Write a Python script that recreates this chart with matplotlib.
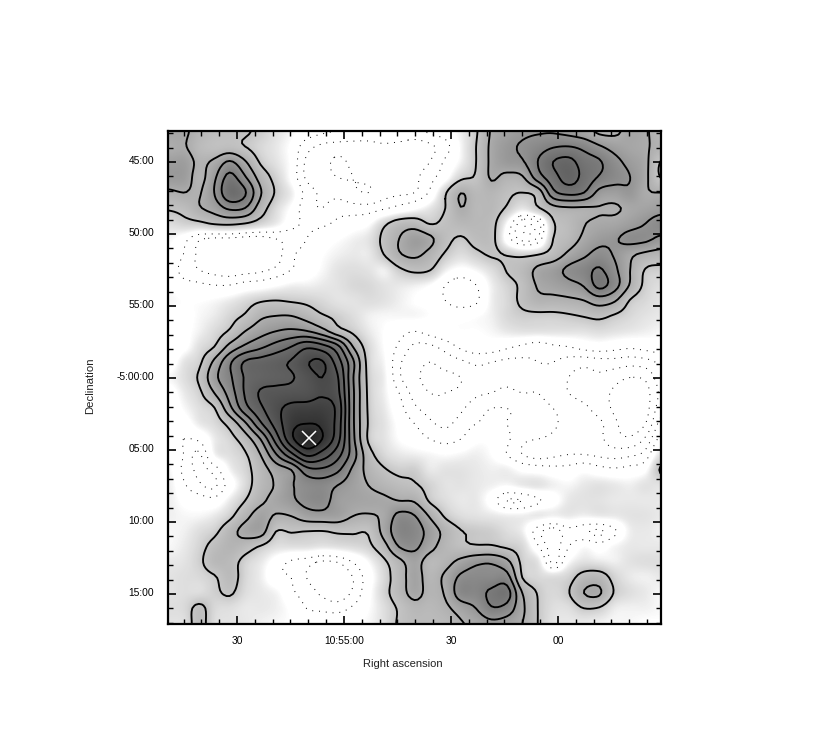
import numpy as np
import matplotlib
matplotlib.use("Agg")
import matplotlib.pyplot as plt
from matplotlib.colors import LinearSegmentedColormap, Normalize
from matplotlib.ticker import MultipleLocator, FixedLocator, FixedFormatter
from matplotlib.transforms import ScaledTranslation

# Flux map (contour-level units), rows from north to south, columns east to west
row00 = [2.3,2.2,1.6,1.3,1.2,1.1,0.8,0.4,0.1,-0.2,-0.4,-0.5,-0.6,-0.6,-0.5,-0.5,-0.6,-0.4,-0.2,0.2,0.9,2.1,2.5,2.8,2.9,2.9,2.7,2.4,1.8,1.8,2.3,2.1,1.6]
row01 = [2.0,2.1,1.4,1.2,1.3,1.0,0.6,0.3,-0.1,-0.8,-1.1,-1.2,-1.2,-1.2,-1.1,-1.2,-1.3,-1.1,-0.7,0.1,1.0,2.2,2.8,3.1,3.5,3.9,4.0,3.7,3.1,2.6,2.3,2.1,1.7]
row02 = [2.6,2.6,1.8,2.2,3.1,2.1,0.9,0.4,-0.1,-1.1,-1.3,-1.6,-1.4,-1.3,-1.3,-1.5,-1.2,-1.0,-0.4,0.2,1.0,2.2,2.7,2.9,4.0,5.0,5.3,4.5,4.1,3.3,2.7,2.2,0.95]
row03 = [2.7,2.6,1.7,2.8,4.3,3.1,1.6,0.7,-0.1,-1.1,-1.3,-1.5,-1.5,-1.4,-1.4,-1.3,-1.1,-0.7,-0.1,0.8,1.1,2.1,1.7,1.9,3.5,4.6,5.4,4.7,3.9,3.4,3.0,2.2,0.95]
row04 = [1.8,2.0,1.9,3.0,4.8,4.1,2.1,0.9,0.2,-0.7,-1.1,-1.2,-1.4,-1.5,-1.2,-1.1,-1.0,-0.4,0.9,1.98,1.5,1.6,1.2,1.0,1.4,3.7,4.3,4.0,2.7,2.5,2.8,2.1,2.0]
row05 = [1.1,1.3,1.9,2.4,3.2,3.0,1.5,0.5,-0.1,-0.8,-1.0,-0.7,-0.8,-0.8,-0.6,-0.3,0,0.4,1.0,1.98,1.5,1.5,0.9,0.3,0.9,1.7,1.9,1.9,1.95,1.9,2.2,2.4,2.6]
row06 = [0.5,0.7,0.8,1.1,1.2,1.0,0.6,0.2,-0.3,-0.6,-0.6,-0.4,-0.2,0,0.8,1.4,1.5,0.95,1.2,1.5,1.5,1.3,0.0,-1.3,-1.2,0.9,1.4,1.95,2.2,2.3,2.6,3.0,3.4]
row07 = [0.1,-0.3,-0.9,-1.1,-1.1,-1.2,-1.2,-1.0,-0.8,-0.5,-0.2,0,0.2,0.4,1.2,2.0,2.6,2.2,1.3,0.9,1.3,1.25,-0.2,-1.2,-0.9,1.0,1.5,2.2,2.7,2.9,3.3,3.2,2.8]
row08 = [0,-0.5,-1.1,-1.4,-1.4,-1.3,-1.1,-1.2,-0.6,-0.3,0,0.2,0.3,0.3,1.0,1.9,2.2,1.7,0.9,0.5,0.8,1.1,0.95,0.8,0.95,1.4,2.2,2.8,3.3,2.9,2.2,1.8,1.6]
row09 = [-0.1,-0.7,-1.0,-1.2,-1.3,-1.2,-1.1,-0.9,-0.5,-0.2,0.1,0.4,0.5,0.4,0.2,0.85,1.2,1.05,0.2,-0.1,0.1,0.5,1.05,1.4,2.2,2.6,3.2,3.6,4.1,3.2,2.0,0.95,0.8]
row10 = [0,-0.3,-0.4,-0.5,-0.5,-0.3,-0.2,0,0.2,0.2,0.3,0.4,0.6,0.6,0.4,0.3,0.2,0,-0.5,-0.8,-0.5,0.2,0.7,1.2,2.1,2.4,2.7,3.1,4.3,3.4,1.9,0.8,0.5]
row11 = [0.1,0,0,0.1,0.3,0.6,0.9,1.0,0.9,0.8,0.6,0.4,0.4,0.5,0.4,0.2,0,-0.1,-0.5,-0.8,-0.6,0.2,0.6,1.2,1.7,1.7,1.8,2.0,2.5,2.1,0.95,0.6,0.4]
row12 = [-0.1,-0.1,0.1,0.3,0.7,1.1,1.8,2.0,2.0,1.6,1.1,0.8,0.5,0.2,0.1,0.1,0.1,0,-0.1,-0.1,0,0.2,0.6,0.8,0.8,0.8,0.9,1.05,1.2,0.9,0.6,0.4,0.3]
row13 = [-0.3,-0.1,0.2,0.6,1.1,2.0,2.6,3.0,3.2,3.05,2.4,1.4,0.85,0.3,0,-0.3,-0.5,-0.3,-0.1,0,0,0.1,0.3,0.4,0.4,0.4,0.4,0.4,0.5,0.4,0.3,0.2,0.1]
row14 = [-0.4,-0.1,0.5,1.0,2.3,3.2,3.8,4.4,5.0,5.8,5.4,4.3,2.0,0.6,0,-0.6,-1.1,-1.1,-0.8,-0.4,-0.2,-0.2,-0.4,-0.6,-0.8,-0.6,-0.5,-0.3,-0.2,-0.3,-0.4,-0.3,-0.2]
row15 = [-0.3,0.4,0.8,2.2,3.8,5.1,5.4,5.7,6.1,6.9,7.1,5.5,3.2,0.7,0.1,-0.9,-1.3,-1.5,-1.3,-1.1,-0.9,-1.0,-1.1,-1.1,-1.0,-1.0,-1.2,-1.3,-1.2,-1.2,-1.3,-1.2,-0.9]
row16 = [0.1,0.5,1.1,2.7,3.8,5.1,5.5,5.7,5.9,6.5,7.0,6.1,3.1,0.8,0.2,-0.9,-1.4,-1.6,-1.6,-1.5,-1.2,-1.1,-1.1,-1.2,-1.1,-1.1,-1.5,-1.7,-1.6,-1.8,-2.0,-1.9,-1.2]
row17 = [-0.2,0.3,0.8,2.0,3.4,5.1,6.1,6.3,6.4,6.5,6.9,6.3,3.2,0.85,0.2,-0.5,-1.2,-1.5,-1.5,-1.4,-1.1,-1.0,-0.9,-1.0,-1.0,-1.2,-1.5,-1.7,-1.8,-2.1,-2.4,-2.2,-1.4]
row18 = [-0.3,0.1,0.5,0.95,2.7,4.6,5.8,6.7,7.3,7.4,7.4,6.7,3.2,0.9,0.3,-0.3,-0.9,-1.2,-1.4,-1.1,-0.7,-0.5,-0.5,-0.6,-0.8,-1.0,-1.2,-1.4,-1.7,-2.1,-2.4,-2.2,-1.2]
row19 = [-0.3,-0.2,0.3,0.6,1.3,2.8,4.8,6.4,7.7,8.0,7.8,6.6,3.2,0.95,0.4,-0.1,-0.5,-0.9,-1.1,-0.8,-0.5,-0.4,-0.5,-0.7,-0.6,-0.9,-1.2,-1.3,-1.4,-1.9,-2.3,-2.0,-0.8]
row20 = [-0.2,-0.5,-0.4,0.3,0.7,1.5,3.0,5.4,7.7,8.8,8.0,6.4,3.3,0.9,0.4,0,-0.2,-0.5,-0.7,-0.5,-0.1,-0.1,-0.4,-0.9,-1.0,-1.1,-1.3,-1.3,-1.4,-1.8,-1.9,-1.4,-0.3]
row21 = [0,-0.5,-1.1,0.2,0.5,0.9,2.0,3.9,5.7,7.2,6.6,5.4,3.5,1.4,0.6,0.3,0.2,0.1,0,0.1,0.2,0,-0.5,-1.0,-1.2,-1.1,-1.0,-1.0,-1.1,-1.2,-1.1,-0.8,0.4]
row22 = [0.1,-0.6,-1.1,-0.8,0.2,0.7,1.5,2.4,3.0,4.6,4.8,4.2,2.8,1.7,1.1,0.8,0.8,0.3,0.4,0.4,0.3,0.2,0.2,-0.1,-0.2,-0.3,-0.3,-0.1,-0.3,-0.4,-0.3,-0.1,1.1]
row23 = [0.2,-0.4,-0.9,-1.1,-0.2,0.6,1.5,2.1,2.9,3.4,3.5,3.0,2.5,2.0,1.6,1.3,1.1,0.7,0.4,0.4,0.3,0.2,0.1,0.3,0.4,0.2,0.1,0.3,0.4,0.3,0.2,0.4,0.4]
row24 = [0.2,-0.1,-0.2,-0.3,0.3,1.0,1.8,2.3,2.8,3.3,3.4,2.6,2.4,2.3,2.2,2.0,1.9,0.9,0.5,0.3,0.3,-0.2,-1.0,-1.0,-0.6,-0.2,0.3,0.4,0.4,0.3,0.3,0.3,0.3]
row25 = [0.2,0.1,0.1,0.3,0.8,1.7,2.4,1.9,2.0,2.5,2.6,2.5,2.0,1.9,2.2,3.3,3.05,1.9,0.9,0.5,0.4,0.3,0.2,0.2,0.3,0.2,0.3,0.2,0.3,0.3,0.4,0.4,0.3]
row26 = [0.1,0.2,0.5,0.8,1.6,2.3,2.4,1.0,1.05,0.98,0.95,1.1,1.1,1.1,2.3,3.6,3.5,2.6,1.7,1.05,0.9,0.8,0.5,0.2,-0.8,-1.3,-0.7,-0.9,-1.1,-0.6,0.2,0.3,0.2]
row27 = [0.1,0.3,0.7,1.3,1.7,1.4,0.9,0.5,0.5,0.5,0.4,0.5,0.6,0.8,1.6,3.0,3.2,2.3,1.6,1.2,1.1,1.1,0.9,0.6,-0.4,-1.2,-0.5,0,-0.2,0.1,0.3,0.3,0.3]
row28 = [0.3,0.4,0.8,1.5,1.4,0.7,0.3,-0.2,-0.6,-0.8,-1.1,-1.0,-0.5,0.1,0.8,1.7,2.4,1.5,1.7,2.3,2.8,2.9,2.3,0.8,0.4,-1.1,0,0.4,0.3,0.2,0.4,0.5,0.5]
row29 = [0.4,0.5,0.6,0.9,1.4,0.6,0.2,-0.4,-0.5,-1.0,-1.3,-1.4,-1.0,-0.2,0.6,1.5,2.4,1.6,2.2,3.2,3.4,3.4,3.4,1.0,0.6,0.5,0.7,1.4,1.5,0.7,0.3,0.2,0.3]
row30 = [0.4,0.5,0.5,0.8,1.1,0.5,0.3,0.1,-0.4,-0.7,-1.1,-1.3,-0.9,-0.1,0.7,1.5,2.3,1.7,2.1,3.5,3.6,4.2,4.4,2.0,0.95,0.6,0.95,2.0,2.1,0.9,0.5,0.3,0.1]
row31 = [0.5,0.6,1.2,0.6,0.5,0.3,0.3,0.2,-0.1,-0.5,-0.6,-0.7,-0.4,0,0.5,1.1,1.6,1.5,1.8,2.4,3.0,3.9,3.6,2.2,1.0,0.5,0.5,0.98,0.9,0.3,0.2,0.2,0.1]
row32 = [0.4,0.5,1.3,0.5,0.4,0.3,0.2,0.1,0,-0.1,-0.1,0,0,0.1,0.5,1.1,1.4,1.4,1.5,1.9,2.3,2.7,2.5,2.0,1.0,0.4,0.3,0.3,0.2,0.1,0.1,0,0]
rows = [row00,row01,row02,row03,row04,row05,row06,row07,row08,row09,row10,row11,row12,row13,row14,row15,
        row16,row17,row18,row19,row20,row21,row22,row23,row24,row25,row26,row27,row28,row29,row30,row31,row32]

pos_levels = [1, 2, 3, 4, 5, 6, 7, 8]
neg_levels = [-2, -1.5, -1, -0.5]
x_tick_vals = [30, 0, -30, -60]          # RA seconds from 10:55:00
x_tick_labels = ["30", "10:55:00", "30", "00"]
y_tick_vals = [15, 10, 5, 0, -5, -10, -15]  # Dec arcmin from -5:00:00
y_tick_labels = ["45:00", "50:00", "55:00", "-5:00:00", "05:00", "10:00", "15:00"]
source_ra, source_dec = 9.8, -4.17

W, H = 830, 754
L, R, T, B = 168, 661, 131, 624
xlim = (49.35, -88.9)
ylim = (-17.08, 17.15)


def cr_axis(a, f, axis):
    a = np.moveaxis(a, axis, 0)
    n = a.shape[0]
    t = np.linspace(0, n - 1, (n - 1) * f + 1)
    i = np.clip(t.astype(int), 0, n - 2)
    u = (t - i).reshape((-1,) + (1,) * (a.ndim - 1))
    p0, p1 = a[np.clip(i - 1, 0, n - 1)], a[i]
    p2, p3 = a[i + 1], a[np.clip(i + 2, 0, n - 1)]
    out = 0.5 * (2 * p1 + (p2 - p0) * u + (2 * p0 - 5 * p1 + 4 * p2 - p3) * u ** 2
                 + (3 * p1 - p0 - 3 * p2 + p3) * u ** 3)
    return np.moveaxis(out, 0, axis)


grid = np.array(rows, dtype=float)
fine = cr_axis(cr_axis(grid, 5, 0), 5, 1)
xs = np.linspace(xlim[0], xlim[1], fine.shape[1])
ys = np.linspace(ylim[1], ylim[0], fine.shape[0])

stops = [(0, 1.0), (0.3, 0.91), (1, 0.77), (2, 0.68), (3, 0.58), (4, 0.49),
         (5, 0.42), (6, 0.36), (7, 0.29), (8, 0.20), (9, 0.13)]
cmap = LinearSegmentedColormap.from_list(
    "obs", [(v / 9, (g, g, g)) for v, g in stops], N=512)

plt.rcParams["font.family"] = ["Liberation Sans", "DejaVu Sans"]
fig = plt.figure(figsize=(W / 100, H / 100), dpi=100)
ax = fig.add_axes([L / W, 1 - B / H, (R - L) / W, (B - T) / H])
ax.imshow(fine, extent=[xlim[0], xlim[1], ylim[0], ylim[1]], origin="upper",
          aspect="auto", cmap=cmap, norm=Normalize(0, 9), interpolation="bilinear")
ax.contour(xs, ys, fine, levels=pos_levels, colors="k", linewidths=1.35, linestyles="solid")
ax.contour(xs, ys, fine, levels=neg_levels, colors="k", linewidths=0.7,
           linestyles=[(0, (1, 6))])
ax.plot([source_ra], [source_dec], marker="x", color="white", ms=10, mew=1.1, ls="none")

ax.set_xlim(*xlim)
ax.set_ylim(*ylim)
ax.xaxis.set_major_locator(FixedLocator(x_tick_vals))
ax.xaxis.set_major_formatter(FixedFormatter(x_tick_labels))
ax.xaxis.set_minor_locator(MultipleLocator(5))
ax.yaxis.set_major_locator(FixedLocator(y_tick_vals))
ax.yaxis.set_major_formatter(FixedFormatter(y_tick_labels))
ax.yaxis.set_minor_locator(MultipleLocator(1))
ax.tick_params(which="major", direction="in", length=6, width=1.2, top=True, right=True,
               labelsize=7.4, colors="k")
ax.tick_params(which="minor", direction="in", length=3.5, width=1.0, top=True, right=True)
ax.tick_params(axis="x", pad=8.5)
ax.tick_params(axis="y", pad=10)
nudge = ScaledTranslation(0, 2 / 100, fig.dpi_scale_trans)
for lab in ax.get_yticklabels():
    lab.set_transform(lab.get_transform() + nudge)
for s in ax.spines.values():
    s.set_linewidth(1.6)
fig.text(402.5 / W, 1 - 664 / H, "Right ascension", fontsize=8, ha="center", va="center", color="#222222")
fig.text(90 / W, 1 - 386 / H, "Declination", fontsize=8.2, rotation=90, ha="center", va="center", color="#222222")
fig.savefig("out.png", dpi=100)
